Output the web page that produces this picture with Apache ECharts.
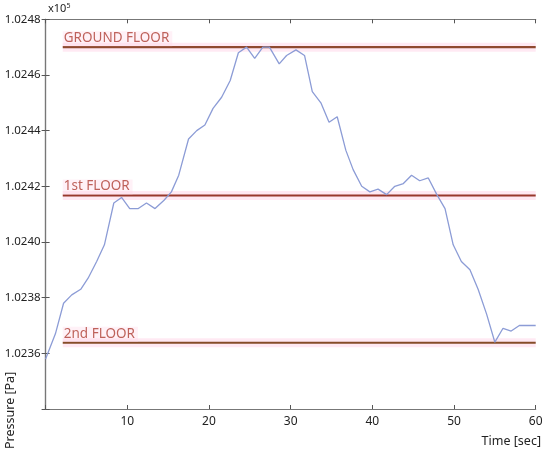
<!DOCTYPE html>
<html>
<head>
<meta charset="utf-8">
<script src="https://cdn.jsdelivr.net/npm/echarts@6/dist/echarts.min.js"></script>
<style>html,body{margin:0;padding:0;background:#fff}#c{width:550px;height:457px}</style>
</head>
<body>
<div id="c"></div>
<script>
// time [sec]
const times = [0, 1.2, 2.2, 3.2, 4.3, 5.2, 6.25, 7.2, 8.35, 9.3, 10.3, 11.35, 12.35, 13.4, 14.5, 15.4, 16.3, 17.5, 18.5, 19.5, 20.5, 21.55, 22.6, 23.6, 24.6, 25.6, 26.6, 27.4, 28.6, 29.5, 30.65, 31.7, 32.65, 33.7, 34.7, 35.7, 36.75, 37.65, 38.7, 39.7, 40.7, 41.75, 42.75, 43.8, 44.8, 45.8, 46.85, 47.9, 48.9, 49.9, 50.9, 51.95, 52.95, 54.0, 55.0, 56.0, 57.0, 58.0, 60];
// pressure [Pa]
const pressure = [102358, 102367, 102378, 102381, 102383, 102387, 102393, 102399, 102414, 102416, 102412, 102412, 102414, 102412, 102415, 102418, 102424, 102437, 102440, 102442, 102448, 102452, 102458, 102468, 102470, 102466, 102470, 102470, 102464, 102467, 102469, 102467, 102454, 102450, 102443, 102445, 102433, 102426, 102420, 102418, 102419, 102417, 102420, 102421, 102424, 102422, 102423, 102417, 102412, 102399, 102393, 102390, 102383, 102374, 102364, 102369, 102368, 102370, 102370];
// floor reference levels [Pa]
const floorNames = ['GROUND FLOOR', '1st FLOOR', '2nd FLOOR'];
const floorLevels = [102470, 102416.7, 102363.8];
const floorColors = ['#8f4a30', '#98382c', '#864c28'];
const floorStart = 2.1, floorEnd = 60;
const xTicks = [0, 60, 10];
const yTicks = [102340, 102480, 20];

const FONT = 'Noto Sans';
const series = [];
floorLevels.forEach((lv, i) => {
  series.push({
    type: 'line', silent: true, symbol: 'none', z: 1,
    data: [[floorStart, lv], [floorEnd, lv]],
    lineStyle: { color: 'rgba(255,200,225,0.4)', width: 9 }
  });
  series.push({
    type: 'line', silent: true, symbol: 'none', z: 3,
    data: [[floorStart, lv], [floorEnd, lv]],
    lineStyle: { color: floorColors[i], width: 2.2 }
  });
  series.push({
    type: 'scatter', silent: true, symbolSize: 0, z: 5,
    data: [[floorStart, lv]],
    label: {
      show: true, position: [0, -16],
      formatter: floorNames[i], color: '#ae3d33',
      fontFamily: FONT, fontSize: 13.5,
      backgroundColor: 'rgba(255,215,232,0.45)', padding: [0, 3, 1, 1]
    }
  });
});
series.push({
  type: 'line', symbol: 'none', z: 4,
  data: times.map((t, i) => [t, pressure[i]]),
  lineStyle: { color: '#8c9cd6', width: 1.3 }
});

const axisCommon = {
  axisLine: { show: true, lineStyle: { color: '#777', width: 1.2 } },
  axisTick: { show: true, inside: true, length: 4, lineStyle: { color: '#555' } },
  splitLine: { show: false }
};

const chart = echarts.init(document.getElementById('c'));
chart.setOption({
  animation: false,
  backgroundColor: '#fff',
  grid: { left: 45.6, right: 14.3, top: 19.3, bottom: 48 },
  xAxis: [
    Object.assign({
      type: 'value', min: xTicks[0], max: xTicks[1], interval: xTicks[2], position: 'bottom',
      axisLabel: { color: '#222', fontFamily: FONT, fontSize: 12, margin: 7,
        formatter: v => v === 0 ? '' : String(v) }
    }, axisCommon),
    Object.assign({
      type: 'value', min: xTicks[0], max: xTicks[1], interval: xTicks[2], position: 'top',
      axisLabel: { show: false }
    }, axisCommon)
  ],
  yAxis: [
    Object.assign({
      type: 'value', min: yTicks[0], max: yTicks[1], interval: yTicks[2], position: 'left',
      axisLabel: { color: '#222', fontFamily: FONT, fontSize: 11.5, margin: 5,
        formatter: v => v === yTicks[0] ? '' : (v / 1e5).toFixed(4) }
    }, axisCommon),
    Object.assign({
      type: 'value', min: yTicks[0], max: yTicks[1], interval: yTicks[2], position: 'right',
      axisLabel: { show: false }
    }, axisCommon)
  ],
  series: series,
  graphic: [
    { type: 'text', left: 48, top: 2,
      style: { text: '{a|x10}{b|5}', rich: {
        a: { fontFamily: FONT, fontSize: 11, fill: '#222' },
        b: { fontFamily: FONT, fontSize: 7, fill: '#222', verticalAlign: 'top', padding: [0, 0, 6, 0] } } } },
    { type: 'text', right: 9, top: 435,
      style: { text: 'Time [sec]', fontFamily: FONT, fontSize: 12.5, fill: '#222' } },
    { type: 'text', x: 4, y: 449, rotation: Math.PI / 2,
      style: { text: 'Pressure [Pa]', fontFamily: FONT, fontSize: 12.5, fill: '#222', align: 'left', verticalAlign: 'top' } }
  ]
});
</script>
</body>
</html>
